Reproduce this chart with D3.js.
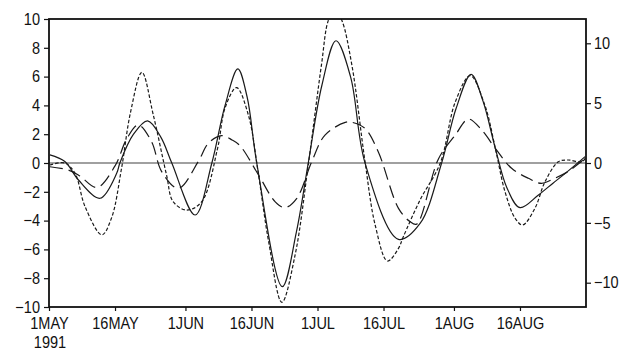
<!DOCTYPE html>
<html>
<head>
<meta charset="utf-8">
<script src="https://cdn.jsdelivr.net/npm/d3@7"></script>
<style>
  body { margin: 0; background: #fff; }
  text { font-family: "Liberation Sans Narrow", "Arial Narrow", "Liberation Sans", sans-serif; font-size: 16.5px; fill: #111; }
</style>
</head>
<body>
<div id="chart"></div>
<script>

// Data (day = days after 1 May 1991)

const solidDays = [0.2, 3.6, 6.7, 11.6, 15.4, 16.1, 19.2, 22.4, 25.4, 27.9, 33.2, 37, 40, 42.9, 45, 47.2, 53, 56.2, 58.9, 62, 65.2, 68.5, 71.8, 79.4, 84.3, 89.2, 92.5, 95.9, 98.6, 101.4, 104, 107, 111.2, 114.5, 117.3, 121.8];
const solidValues = [0.56, 0.1, -1.18, -2.45, -0.7, 0, 2.0, 2.92, 1.8, 0, -3.61, 0, 4.0, 6.53, 4.6, 0, -8.59, -4.8, 0, 5.4, 8.49, 6.0, 0, -5.3, -4.2, 0, 3.8, 6.16, 4.3, 1.02, -1.7, -3.1, -2.22, -1.4, -0.72, 0.44];

const longDays = [0.2, 4.4, 7.0, 10.9, 15.0, 17.7, 20.3, 23.3, 25.6, 29.4, 33.9, 36.2, 39.2, 41.6, 43.4, 47.6, 51.4, 53.6, 56.3, 59.7, 62.7, 67.3, 68.8, 71.8, 74.8, 79.4, 82.0, 83.5, 88.5, 92.3, 95.3, 98.3, 101.4, 105.1, 108.9, 111.9, 114.9, 117.9, 121.8];
const longValues = [-0.26, -0.49, -0.9, -1.7, -0.2, 1.7, 2.64, 1.48, -0.6, -1.76, 0.1, 1.37, 1.9, 1.6, 1.2, -0.83, -2.7, -3.1, -2.45, 0.1, 1.94, 2.82, 2.83, 2.4, 0.78, -3.15, -4.07, -4.25, 0.3, 1.94, 3.05, 2.29, 1.02, -0.37, -1.06, -1.41, -1.06, -0.6, 0.33];

// short-dashed series uses the right axis
const shortDays = [0.2, 3.6, 5.9, 8.2, 12.0, 14.2, 16.5, 18.5, 21.1, 23.7, 26.7, 28.2, 31.3, 34.7, 38.3, 40.0, 42.6, 45.3, 47.6, 49.9, 52.9, 55.9, 58.9, 61.9, 63.5, 65.0, 66.5, 68.8, 71.8, 74.1, 76.9, 79.4, 80.5, 84.3, 88.9, 92.3, 95.7, 99.0, 101.4, 103.6, 105.9, 107.6, 110.4, 112.7, 115.7, 117.9, 121.1, 121.8];
const shortValues = [-0.17, 0, -0.86, -3.65, -6.0, -4.6, -0.4, 4.2, 7.58, 4.0, -1.0, -3.23, -3.93, -3.23, 1.23, 4.6, 6.3, 4.0, -1.0, -6.57, -11.64, -7.7, -0.17, 8.2, 11.95, 12.8, 11.95, 8.2, 0.1, -5.18, -8.19, -7.13, -6.16, -3.09, 0, 5.1, 7.3, 4.85, 1.23, -2.4, -4.62, -5.18, -3.78, -1.56, 0.1, 0.25, 0.1, 0.4];

const leftTicks = [-10, -8, -6, -4, -2, 0, 2, 4, 6, 8, 10];
const rightTicks = [-10, -5, 0, 5, 10];
const xTickLabels = ['1MAY', '16MAY', '1JUN', '16JUN', '1JUL', '16JUL', '1AUG', '16AUG'];
const xTickDates = [new Date(1991, 4, 1), new Date(1991, 4, 16), new Date(1991, 5, 1), new Date(1991, 5, 16),
                    new Date(1991, 6, 1), new Date(1991, 6, 16), new Date(1991, 7, 1), new Date(1991, 7, 16)];
const yearLabel = '1991';


// Layout

const W = 631, H = 350;
const margin = { top: 19, right: 45, bottom: 43, left: 49 };
const start = new Date(1991, 4, 1);
const end = new Date(1991, 7, 31);
const toDate = d => new Date(start.getTime() + d * 86400000);

const x = d3.scaleTime().domain([start, end]).range([margin.left, W - margin.right]);
const yL = d3.scaleLinear().domain([-10, 10]).range([H - margin.bottom, margin.top]);
const yR = d3.scaleLinear().domain([-12.03, 12.03]).range([H - margin.bottom, margin.top]);

const svg = d3.select('#chart')
              .append('svg')
              .attr('width', W)
              .attr('height', H);

svg.append('clipPath')
   .attr('id', 'plot')
   .append('rect')
   .attr('x', margin.left)
   .attr('y', margin.top)
   .attr('width', W - margin.right - margin.left)
   .attr('height', H - margin.bottom - margin.top);

// zero line
svg.append('line')
   .attr('x1', margin.left).attr('x2', W - margin.right)
   .attr('y1', yL(0)).attr('y2', yL(0))
   .attr('stroke', '#808080')
   .attr('stroke-width', 1.3);


// Series

const series = [
  { days: solidDays, values: solidValues, y: yL, dash: null },
  { days: longDays, values: longValues, y: yL, dash: '13,6' },
  { days: shortDays, values: shortValues, y: yR, dash: '3.5,2' },
];

const plot = svg.append('g').attr('clip-path', 'url(#plot)');

series.forEach(s => {
  const pts = s.days.map((d, i) => [toDate(d), s.values[i]]);
  const line = d3.line()
                 .x(d => x(d[0]))
                 .y(d => s.y(d[1]))
                 .curve(d3.curveCatmullRom.alpha(0.5));
  plot.append('path')
      .attr('d', line(pts))
      .attr('fill', 'none')
      .attr('stroke', '#1a1a1a')
      .attr('stroke-width', 1.2)
      .attr('stroke-dasharray', s.dash);
});


// Axes

const fmt = d => String(d).replace('-', '\u2212');

const left = svg.append('g')
                .attr('transform', `translate(${margin.left},0)`)
                .call(d3.axisLeft(yL).tickValues(leftTicks).tickSize(5).tickPadding(4).tickFormat(fmt));

const right = svg.append('g')
                 .attr('transform', `translate(${W - margin.right},0)`)
                 .call(d3.axisRight(yR).tickValues(rightTicks).tickSize(5).tickPadding(3).tickFormat(fmt));

const bottom = svg.append('g')
                  .attr('transform', `translate(0,${H - margin.bottom})`)
                  .call(d3.axisBottom(x).tickValues(xTickDates).tickSize(4).tickPadding(6)
                          .tickFormat((d, i) => xTickLabels[i]));

[left, right, bottom].forEach(g => {
  g.attr('font-size', null).attr('font-family', null);
  g.select('.domain').remove();
  g.selectAll('.tick line').attr('stroke', '#111').attr('stroke-width', 1.2);
});

svg.append('text')
   .attr('class', 'year')
   .attr('x', x(start) + 1)
   .attr('y', H - 2.5)
   .attr('text-anchor', 'middle')
   .text(yearLabel);

// the reference uses a condensed face; squeeze glyphs if the narrow font is missing
svg.selectAll('text').each(function() {
  const w = this.getComputedTextLength();
  if (w > 0) {
    d3.select(this)
      .attr('textLength', w * 0.88)
      .attr('lengthAdjust', 'spacingAndGlyphs');
  }
});

// frame
svg.append('rect')
   .attr('x', margin.left)
   .attr('y', margin.top)
   .attr('width', W - margin.right - margin.left)
   .attr('height', H - margin.bottom - margin.top)
   .attr('fill', 'none')
   .attr('stroke', '#111')
   .attr('stroke-width', 1.8);

</script>
</body>
</html>
